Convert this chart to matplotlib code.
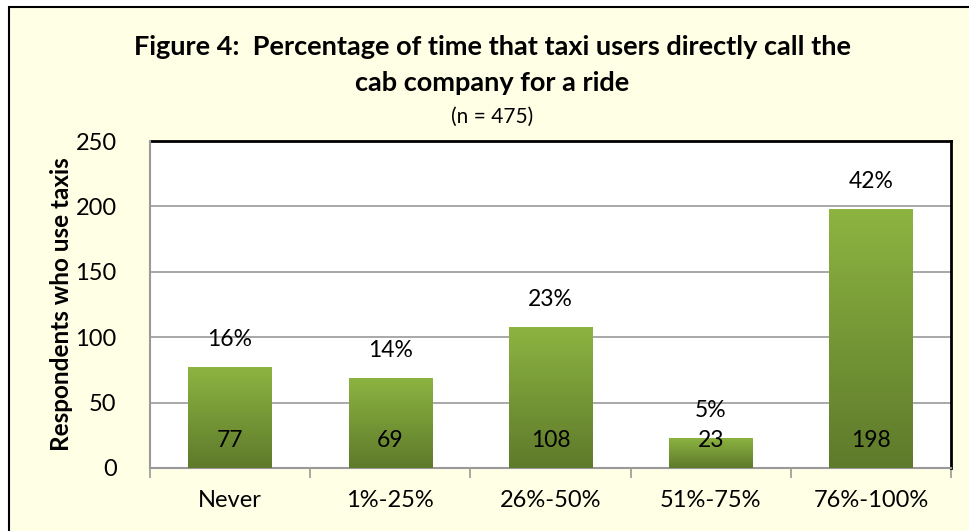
import matplotlib
matplotlib.use("Agg")
import matplotlib.pyplot as plt
import numpy as np
from matplotlib.patches import Rectangle
from matplotlib.colors import LinearSegmentedColormap

categories = ["Never", "1%-25%", "26%-50%", "51%-75%", "76%-100%"]
counts = [77, 69, 108, 23, 198]
percents = ["16%", "14%", "23%", "5%", "42%"]
yticks = [0, 50, 100, 150, 200, 250]

plt.rcParams['font.family'] = ['Lato', 'DejaVu Sans']

W, H = 969, 531
fig = plt.figure(figsize=(W/100, H/100), dpi=100)
fig.patch.set_facecolor("white")
bg = "#FFFFE6"
fig.patches.append(Rectangle((9/W, -0.05), 1.1, 1 - 7/H + 0.05, transform=fig.transFigure,
                             facecolor=bg, edgecolor="black", lw=1.5, zorder=-10))

ax = fig.add_axes([150/W, 1 - 468/H, (951-150)/W, (468-141)/H])
ax.set_facecolor("white")
x = np.arange(len(categories))
bars = ax.bar(x, counts, width=0.52, color="#7A9A35", zorder=2, edgecolor="none")

grad = np.linspace(0, 1, 256).reshape(-1, 1)
cmap = LinearSegmentedColormap.from_list("g", ["#5E7A2B", "#8DB441"])
for b in bars:
    x0, w, h = b.get_x(), b.get_width(), b.get_height()
    im = ax.imshow(grad, extent=(x0, x0 + w, 0, h), origin="lower", cmap=cmap,
                   aspect="auto", zorder=3)
    im.set_clip_path(b)

for i, (c, p) in enumerate(zip(counts, percents)):
    ax.text(i, 21, str(c), ha="center", va="center", fontsize=16.5, zorder=5)
    ax.text(i, c + 21, p, ha="center", va="center", fontsize=16.5, zorder=5)

ax.set_xlim(-0.5, len(categories) - 0.5)
ax.set_ylim(0, 250)
ax.set_yticks(yticks)
ax.set_yticklabels([str(t) for t in yticks], fontsize=17)
ax.tick_params(axis="y", length=0, pad=24)
ax.set_xticks(x)
ax.set_xticklabels(categories, fontsize=17)
ax.tick_params(axis="x", length=0, pad=16)
ax.set_xticks(np.arange(-0.5, len(categories)), minor=True)
ax.tick_params(axis="x", which="minor", length=7, color="#999999", width=1.2)
ax.grid(axis="y", color="#999999", lw=1.2, zorder=1)
ax.set_axisbelow(True)
for s in ["left", "bottom"]:
    ax.spines[s].set_color("#999999")
    ax.spines[s].set_linewidth(1.5)
for s in ["top", "right"]:
    ax.spines[s].set_color("black")
    ax.spines[s].set_linewidth(2)
ax.spines["left"].set_zorder(6)

ax.set_ylabel("Respondents who use taxis", fontsize=17.5, fontweight="bold")
ax.yaxis.set_label_coords(-0.096, 0.5)

fig.text(492/W, 1 - 47/H, "Figure 4:  Percentage of time that taxi users directly call the",
         ha="center", va="center", fontsize=19.5, fontweight="bold")
fig.text(492/W, 1 - 83/H, "cab company for a ride",
         ha="center", va="center", fontsize=19.5, fontweight="bold")
fig.text(492/W, 1 - 117/H, "(n = 475)", ha="center", va="center", fontsize=15)

fig.savefig("out.png", dpi=100, facecolor=fig.get_facecolor())
